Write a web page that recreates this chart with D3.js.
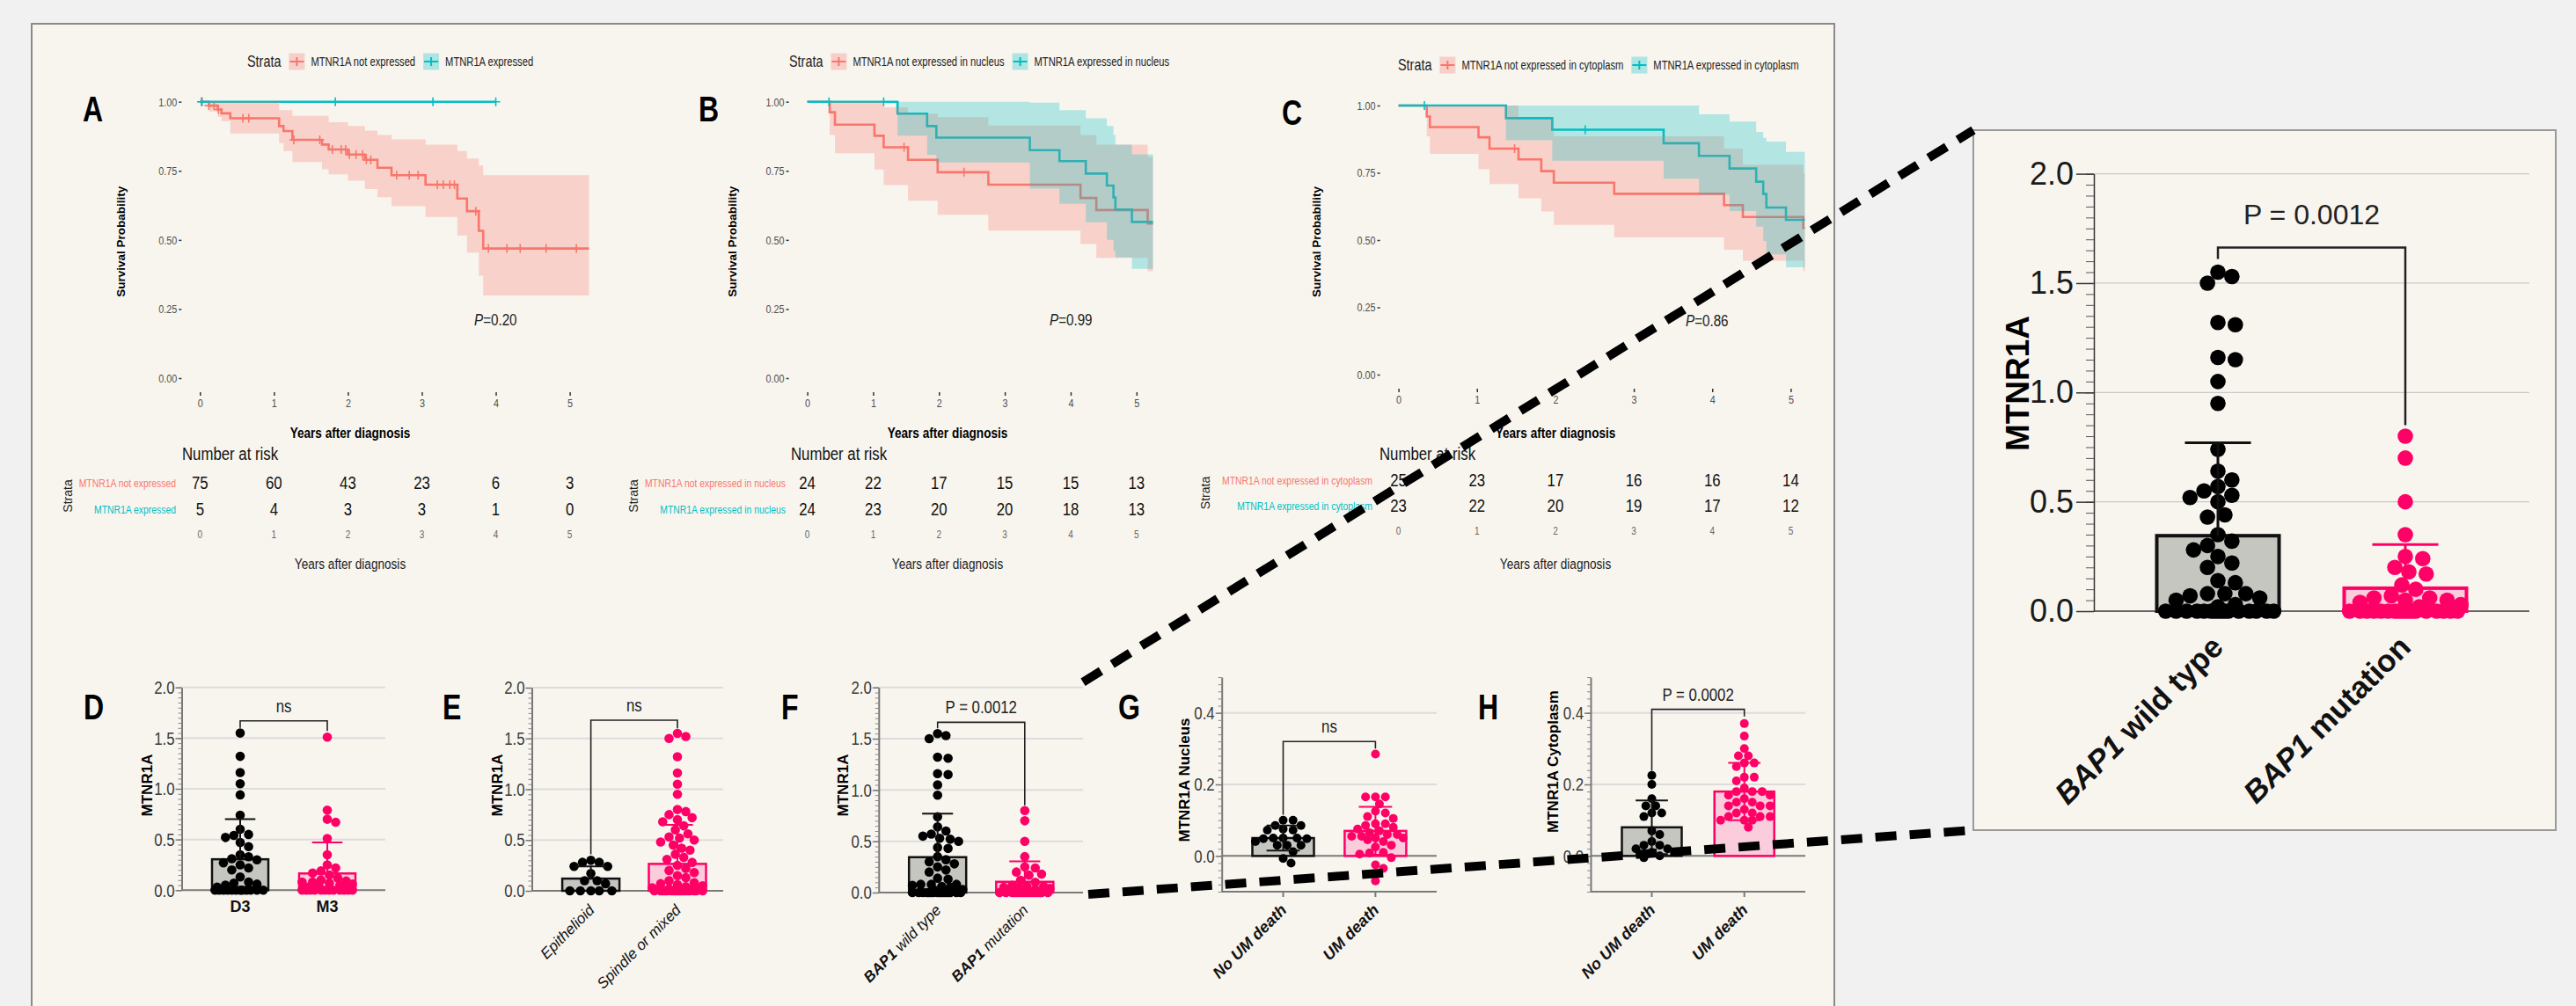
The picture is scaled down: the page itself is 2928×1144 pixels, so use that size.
<!DOCTYPE html>
<html>
<head>
<meta charset="utf-8">
<script src="https://cdn.jsdelivr.net/npm/d3@7/dist/d3.min.js"></script>
<style>
  html, body { margin: 0; padding: 0; background: #f1f1f1; }
  svg { display: block; }
</style>
</head>
<body>
<div id="root"></div>
<script>
const W = 2928
const H = 1144
const RED = '#f8766d'
const TEAL = '#00bfc4'
const PINK = '#ff0066'
const CREAM = '#f8f5ef'
const SANS = "'Liberation Sans',Arial,sans-serif"
const SQ = 0.8   // horizontal squeeze that imitates the condensed face of the original

// ---------- Kaplan-Meier data ----------
const years = [0, 1, 2, 3, 4, 5]

// A: MTNR1A not expressed / expressed
const aNotTime = [0, 0.12, 0.24, 0.29, 0.41, 1.07, 1.13, 1.25, 1.65, 1.74, 2.0, 2.23, 2.40, 2.59, 3.05, 3.48, 3.61, 3.77, 3.83]
const aNotSurv = [1, 0.986, 0.972, 0.958, 0.94, 0.912, 0.894, 0.862, 0.845, 0.827, 0.809, 0.79, 0.761, 0.734, 0.70, 0.65, 0.604, 0.533, 0.469]
const aNotLow = [1, 0.965, 0.945, 0.93, 0.885, 0.85, 0.822, 0.782, 0.756, 0.737, 0.714, 0.684, 0.655, 0.622, 0.583, 0.516, 0.454, 0.371, 0.299]
const aNotHigh = [1, 1, 1, 1, 1, 0.97, 0.97, 0.949, 0.949, 0.926, 0.912, 0.896, 0.88, 0.864, 0.845, 0.822, 0.795, 0.769, 0.734]
const aNotCensor = [0.03, 0.12, 0.19, 0.25, 0.58, 0.66, 1.27, 1.62, 1.79, 1.91, 1.97, 2.02, 2.11, 2.2, 2.25, 2.31, 2.66, 2.83, 2.95, 3.21, 3.29, 3.38, 3.44, 3.73, 3.9, 4.15, 4.33, 4.68, 5.09]
const aNotEnd = 5.26
const aExpTime = [0]
const aExpSurv = [1]
const aExpLow = [1]
const aExpHigh = [1]
const aExpCensor = [0.02, 1.83, 3.15, 4.0]
const aExpEnd = 4.0
const aRiskNot = [75, 60, 43, 23, 6, 3]
const aRiskExp = [5, 4, 3, 3, 1, 0]

// B: nucleus
const bNotTime = [0, 0.34, 0.42, 1.02, 1.16, 1.53, 1.98, 2.75, 4.15, 4.39, 5.17]
const bNotSurv = [1, 0.962, 0.917, 0.877, 0.835, 0.79, 0.745, 0.70, 0.652, 0.608, 0.559]
const bNotLow = [1, 0.88, 0.814, 0.755, 0.698, 0.642, 0.591, 0.534, 0.485, 0.435, 0.387]
const bNotHigh = [1, 1, 1, 1, 0.98, 0.957, 0.944, 0.914, 0.88, 0.845, 0.80]
const bNotCensor = [1.47, 2.38]
const bNotEnd = 5.25
const bExpTime = [0, 1.37, 1.82, 1.96, 3.38, 3.83, 4.23, 4.55, 4.65, 4.68, 4.93]
const bExpSurv = [1, 0.957, 0.912, 0.87, 0.825, 0.785, 0.74, 0.697, 0.654, 0.61, 0.565]
const bExpLow = [1, 0.877, 0.808, 0.78, 0.686, 0.631, 0.564, 0.50, 0.46, 0.437, 0.395]
const bExpHigh = [1, 1, 1, 1, 0.997, 0.97, 0.94, 0.912, 0.88, 0.845, 0.81]
const bExpCensor = [0.33, 1.16]
const bExpEnd = 5.25
const bRiskNot = [24, 22, 17, 15, 15, 13]
const bRiskExp = [24, 23, 20, 20, 18, 13]

// C: cytoplasm
const cNotTime = [0, 0.36, 0.40, 1.02, 1.16, 1.53, 1.82, 1.98, 2.75, 4.15, 4.39, 5.16]
const cNotSurv = [1, 0.959, 0.92, 0.882, 0.84, 0.80, 0.756, 0.713, 0.672, 0.63, 0.586, 0.545]
const cNotLow = [1, 0.886, 0.82, 0.763, 0.708, 0.655, 0.606, 0.556, 0.51, 0.464, 0.423, 0.385]
const cNotHigh = [1, 1, 1, 1, 1, 0.95, 0.95, 0.886, 0.886, 0.84, 0.78, 0.75]
const cNotCensor = [1.48]
const cNotEnd = 5.18
const cExpTime = [0, 1.37, 1.96, 3.38, 3.83, 4.22, 4.56, 4.65, 4.69, 4.94]
const cExpSurv = [1, 0.953, 0.91, 0.86, 0.813, 0.766, 0.717, 0.671, 0.621, 0.575]
const cExpLow = [1, 0.871, 0.795, 0.728, 0.668, 0.608, 0.55, 0.497, 0.447, 0.399]
const cExpHigh = [1, 1, 1, 1, 0.967, 0.94, 0.902, 0.88, 0.866, 0.828]
const cExpCensor = [0.33, 2.38]
const cExpEnd = 5.18
const cRiskNot = [25, 23, 17, 16, 16, 14]
const cRiskExp = [23, 22, 20, 19, 17, 12]

// ---------- bar / scatter panels ----------
const dCats = ['D3', 'M3']
const dD3 = [1.55, 1.32, 1.16, 1.05, 0.94, 0.74, 0.60, 0.55, 0.54, 0.52, 0.47, 0.43, 0.35, 0.33, 0.31, 0.30, 0.27, 0.25, 0.22, 0.20, 0.13, 0.08, 0.07, 0.06, 0.05, 0.03, 0, 0, 0, 0, 0, 0, 0, 0, 0, 0, 0, 0]
const dM3 = [1.51, 0.79, 0.70, 0.67, 0.51, 0.35, 0.25, 0.22, 0.19, 0.17, 0.15, 0.12, 0.10, 0.09, 0.08, 0.08, 0.07, 0.06, 0.05, 0.04, 0.03, 0.02, 0, 0, 0, 0, 0, 0, 0, 0, 0, 0, 0, 0]
const dMean = [0.305, 0.165]
const dSd = [0.395, 0.305]

const eCats = ['Epithelioid', 'Spindle or mixed']
const eEpi = [0.30, 0.28, 0.28, 0.24, 0.24, 0.17, 0.10, 0.10, 0.07, 0, 0, 0, 0, 0]
const eSpi = [1.55, 1.52, 1.50, 1.32, 1.16, 1.05, 0.95, 0.80, 0.78, 0.75, 0.72, 0.70, 0.68, 0.64, 0.60, 0.56, 0.53, 0.52, 0.50, 0.48, 0.45, 0.42, 0.40, 0.36, 0.33, 0.31, 0.28, 0.25, 0.22, 0.20, 0.18, 0.15, 0.13, 0.10, 0.08, 0.07, 0.06, 0.05, 0.04, 0.03, 0.02, 0.02, 0.01, 0.01, 0, 0, 0, 0, 0, 0, 0, 0, 0, 0, 0, 0, 0, 0, 0, 0, 0, 0]
const eMean = [0.12, 0.265]
const eSd = [0.12, 0.385]

const fCats = ['wild type', 'mutation']
const bapWild = [1.55, 1.53, 1.50, 1.32, 1.31, 1.16, 1.15, 1.05, 0.95, 0.74, 0.64, 0.60, 0.57, 0.55, 0.53, 0.52, 0.50, 0.44, 0.43, 0.35, 0.32, 0.30, 0.28, 0.25, 0.22, 0.20, 0.14, 0.13, 0.08, 0.08, 0.08, 0.07, 0.06, 0.05, 0.03, 0.02, 0, 0, 0, 0, 0, 0, 0, 0, 0, 0, 0, 0, 0, 0, 0, 0]
const bapMut = [0.80, 0.70, 0.50, 0.35, 0.25, 0.24, 0.20, 0.18, 0.17, 0.12, 0.10, 0.07, 0.06, 0.06, 0.05, 0.05, 0.04, 0.03, 0.02, 0, 0, 0, 0, 0, 0, 0, 0, 0, 0, 0, 0, 0, 0, 0, 0, 0, 0]
const fMean = [0.345, 0.105]
const fSd = [0.425, 0.20]

const ghCats = ['No UM death', 'UM death']
const gNo = [0.10, 0.10, 0.085, 0.085, 0.075, 0.072, 0.072, 0.05, 0.05, 0.05, 0.048, 0.048, 0.04, 0.03, 0.03, 0.03, 0.012, -0.007, -0.02]
const gUm = [0.285, 0.165, 0.165, 0.165, 0.145, 0.125, 0.12, 0.11, 0.105, 0.09, 0.09, 0.085, 0.08, 0.075, 0.07, 0.065, 0.06, 0.06, 0.055, 0.055, 0.05, 0.05, 0.045, 0.04, 0.03, 0.025, 0.01, 0.008, 0.005, -0.005, -0.025, -0.035, -0.07]
const gMean = [0.05, 0.07]
const gSd = [0.035, 0.067]
const hNo = [0.225, 0.20, 0.16, 0.14, 0.14, 0.12, 0.12, 0.11, 0.07, 0.06, 0.04, 0.03, 0.03, 0.02, 0.02, 0.01, 0.01, 0.0, -0.005]
const hUm = [0.37, 0.335, 0.30, 0.28, 0.28, 0.26, 0.26, 0.25, 0.22, 0.22, 0.21, 0.19, 0.18, 0.18, 0.18, 0.17, 0.17, 0.16, 0.15, 0.15, 0.14, 0.14, 0.14, 0.13, 0.12, 0.12, 0.11, 0.11, 0.11, 0.10, 0.10, 0.10, 0.08]
const hMean = [0.08, 0.18]
const hSd = [0.075, 0.08]

// significance brackets: [bar level, left leg end, right leg end]
const dBracket = [1.67, 1.60, 1.57]
const eBracket = [1.68, 0.36, 1.60]
const fBracket = [1.66, 1.60, 0.85]
const gBracket = [0.32, 0.115, 0.30]
const hBracket = [0.41, 0.238, 0.39]
const insetBracket = [1.663, 1.61, 0.85]

const svg = d3.select('#root').append('svg')
  .attr('width', W)
  .attr('height', H)

svg.append('rect').attr('width', W).attr('height', H).attr('fill', '#f1f1f1')
svg.append('rect')
  .attr('x', 36).attr('y', 27).attr('width', 2049).attr('height', 1160)
  .attr('fill', CREAM).attr('stroke', '#8a8a8a').attr('stroke-width', 2)

// condensed text: placed with a transform, squeezed horizontally
function ntext(parent, x, y, size, rotate) {
  return parent.append('text')
    .attr('transform', `translate(${x},${y})${rotate ? ` rotate(${rotate})` : ''} scale(${SQ},1)`)
    .attr('font-family', SANS).attr('font-size', size)
}

function squeezeAxisText(sel) {
  sel.selectAll('text').each(function () {
    const t = d3.select(this)
    const x = t.attr('x')
    if (x !== null) t.attr('x', +x / SQ)
    t.attr('transform', `scale(${SQ},1)`)
  })
}

function stepPoints(times, vals, end) {
  const pts = times.map((t, i) => [t, vals[i]])
  pts.push([end, vals[vals.length - 1]])
  return pts
}

function survAt(times, vals, t) {
  let v = vals[0]
  times.forEach((tt, i) => { if (tt <= t) v = vals[i] })
  return v
}

function drawKm(cfg) {
  const x = d3.scaleLinear().domain([0, 5]).range([cfg.x0, cfg.x5])
  const y = d3.scaleLinear().domain([0, 1]).range([cfg.y0, cfg.y1])
  const g = svg.append('g')

  const yAxis = d3.axisLeft(y)
    .tickValues([0, 0.25, 0.5, 0.75, 1])
    .tickFormat(d3.format('.2f'))
    .tickSize(3).tickPadding(2).tickSizeOuter(0)
  const ya = g.append('g').attr('transform', `translate(${cfg.x0 - 21},0)`).call(yAxis)
  const xAxis = d3.axisBottom(x).tickValues(years).tickFormat(d3.format('d'))
    .tickSize(4).tickPadding(3).tickSizeOuter(0)
  const xa = g.append('g').attr('transform', `translate(0,${cfg.y0 + 16})`).call(xAxis)
  ;[ya, xa].forEach(a => {
    a.select('.domain').remove()
    a.selectAll('line').attr('stroke', '#333').attr('stroke-width', 1.5)
    a.selectAll('text').attr('font-family', SANS).attr('font-size', 13.5).attr('fill', '#4d4d4d')
    squeezeAxisText(a)
  })

  const line = d3.line().curve(d3.curveStepAfter).x(d => x(d[0])).y(d => y(d[1]))
  const area = d3.area().curve(d3.curveStepAfter)
    .x(d => x(d[0])).y0(d => y(d[1])).y1(d => y(d[2]))

  cfg.series.forEach(s => {
    g.append('path')
      .attr('d', line(stepPoints(s.time, s.surv, s.end)))
      .attr('fill', 'none').attr('stroke', s.color).attr('stroke-width', 2.6)
    s.censor.forEach(t => {
      const cx = x(t), cy = y(survAt(s.time, s.surv, t))
      g.append('path').attr('d', `M${cx - 5},${cy}H${cx + 5}M${cx},${cy - 5}V${cy + 5}`)
        .attr('stroke', s.color).attr('stroke-width', 1.6)
    })
  })
  cfg.series.forEach(s => {
    const pts = s.time.map((t, i) => [t, s.low[i], s.high[i]])
    pts.push([s.end, s.low[s.low.length - 1], s.high[s.high.length - 1]])
    g.append('path').attr('d', area(pts)).attr('fill', s.color).attr('opacity', 0.28)
  })

  // legend
  let lx = cfg.legX
  const ly = cfg.legY
  const st = ntext(g, lx, ly, 18).attr('dy', '0.35em').attr('fill', '#222').text('Strata')
  lx += st.node().getComputedTextLength() * SQ + 9
  cfg.series.forEach(s => {
    g.append('rect').attr('x', lx).attr('y', ly - 9.5).attr('width', 18).attr('height', 19)
      .attr('fill', s.color).attr('opacity', 0.3)
    g.append('path').attr('d', `M${lx + 1},${ly}H${lx + 17}M${lx + 9},${ly - 5}V${ly + 5}`)
      .attr('stroke', s.color).attr('stroke-width', 2)
    const t = ntext(g, lx + 25, ly, 14).attr('dy', '0.35em').attr('fill', '#222').text(s.label)
    lx += 25 + t.node().getComputedTextLength() * SQ + 9
  })

  ntext(g, cfg.letterX, cfg.y1 + 22, 40).attr('font-weight', 'bold').text(cfg.letter)

  g.append('text')
    .attr('transform', `translate(${cfg.yLabX},${(cfg.y0 + cfg.y1) / 2 + 2}) rotate(-90)`)
    .attr('text-anchor', 'middle').attr('dy', '0.35em')
    .attr('font-family', SANS).attr('font-weight', 'bold').attr('font-size', 13.5)
    .text('Survival Probability')

  const p = ntext(g, cfg.pX, cfg.pY, 19).attr('fill', '#222')
  p.append('tspan').attr('font-style', 'italic').text('P')
  p.append('tspan').text(cfg.pText)

  ntext(g, cfg.titleX, 498, 17).attr('text-anchor', 'middle').attr('font-weight', 'bold')
    .text('Years after diagnosis')

  // risk table
  ntext(g, cfg.riskX, 516, 21).attr('dy', '0.35em').attr('fill', '#111').text('Number at risk')
  cfg.series.forEach((s, i) => {
    const ry = cfg.riskY[i]
    ntext(g, cfg.riskLabX, ry, 13).attr('dy', '0.35em')
      .attr('text-anchor', 'end').attr('fill', s.color).text(s.label)
    s.risk.forEach((d, j) => {
      ntext(g, x(years[j]), ry, 21).attr('dy', '0.35em')
        .attr('text-anchor', 'middle').attr('fill', '#111').text(d)
    })
  })
  g.append('text')
    .attr('transform', `translate(${cfg.strataX},${(cfg.riskY[0] + cfg.riskY[1]) / 2}) rotate(-90)`)
    .attr('text-anchor', 'middle').attr('dy', '0.35em')
    .attr('font-family', SANS).attr('font-size', 14).attr('fill', '#222').text('Strata')
  years.forEach(d => {
    ntext(g, x(d), cfg.riskY[1] + 29, 12.5).attr('dy', '0.35em')
      .attr('text-anchor', 'middle').attr('fill', '#666').text(d)
  })
  ntext(g, cfg.titleX, 641, 17).attr('dy', '0.35em').attr('text-anchor', 'middle')
    .attr('fill', '#222').text('Years after diagnosis')
}

drawKm({
  letter: 'A', letterX: 94, x0: 227.3, x5: 647.6, y0: 430, y1: 115.7,
  legX: 281, legY: 70, yLabX: 137, pX: 539, pY: 370, pText: '=0.20',
  titleX: 398, riskX: 207, riskY: [549, 579], riskLabX: 200, strataX: 77,
  series: [
    { label: 'MTNR1A not expressed', color: RED, time: aNotTime, surv: aNotSurv, low: aNotLow, high: aNotHigh, censor: aNotCensor, end: aNotEnd, risk: aRiskNot },
    { label: 'MTNR1A expressed', color: TEAL, time: aExpTime, surv: aExpSurv, low: aExpLow, high: aExpHigh, censor: aExpCensor, end: aExpEnd, risk: aRiskExp }
  ]
})
drawKm({
  letter: 'B', letterX: 794, x0: 917.6, x5: 1291.8, y0: 430, y1: 115.7,
  legX: 897, legY: 70, yLabX: 832, pX: 1193, pY: 370, pText: '=0.99',
  titleX: 1077, riskX: 899, riskY: [549, 579], riskLabX: 893, strataX: 720,
  series: [
    { label: 'MTNR1A not expressed in nucleus', color: RED, time: bNotTime, surv: bNotSurv, low: bNotLow, high: bNotHigh, censor: bNotCensor, end: bNotEnd, risk: bRiskNot },
    { label: 'MTNR1A expressed in nucleus', color: TEAL, time: bExpTime, surv: bExpSurv, low: bExpLow, high: bExpHigh, censor: bExpCensor, end: bExpEnd, risk: bRiskExp }
  ]
})
drawKm({
  letter: 'C', letterX: 1457, x0: 1589.6, x5: 2035.4, y0: 426, y1: 120,
  legX: 1589, legY: 74, yLabX: 1496, pX: 1916, pY: 371, pText: '=0.86',
  titleX: 1768, riskX: 1568, riskY: [546, 575], riskLabX: 1560, strataX: 1370,
  series: [
    { label: 'MTNR1A not expressed in cytoplasm', color: RED, time: cNotTime, surv: cNotSurv, low: cNotLow, high: cNotHigh, censor: cNotCensor, end: cNotEnd, risk: cRiskNot },
    { label: 'MTNR1A expressed in cytoplasm', color: TEAL, time: cExpTime, surv: cExpSurv, low: cExpLow, high: cExpHigh, censor: cExpCensor, end: cExpEnd, risk: cRiskExp }
  ]
})

// deterministic scatter spread (no random jitter)
function spread(vals, cx, y, r, maxHalf) {
  const pts = vals.map(v => ({ v, py: y(v) })).sort((a, b) => d3.descending(a.v, b.v))
  const placed = []
  const minD = r * 1.85
  pts.forEach(p => {
    let found = null, bestOff = 0, bestD = -1
    for (let k = 0; k <= 80; k++) {
      const off = Math.ceil(k / 2) * r * 0.45 * (k % 2 ? 1 : -1)
      if (Math.abs(off) > maxHalf) continue
      const dmin = placed.length ? d3.min(placed, q => Math.hypot(q.px - (cx + off), q.py - p.py)) : Infinity
      if (dmin >= minD) { found = off; break }
      if (dmin > bestD) { bestD = dmin; bestOff = off }
    }
    p.px = cx + (found !== null ? found : bestOff)
    placed.push(p)
  })
  return pts
}

const GROUP_STYLE = [
  { fill: '#c6c6c1', stroke: '#111', dot: '#000' },
  { fill: '#fbccdc', stroke: PINK, dot: PINK }
]

function drawBarPanel(cfg) {
  const y = d3.scaleLinear().domain(cfg.domain).range([cfg.yLo, cfg.yHi])
  const x = d3.scaleOrdinal().domain(cfg.cats).range(cfg.centers)
  const g = svg.append('g')
  const big = !!cfg.big

  g.selectAll(null).data(cfg.grid).join('line')
    .attr('x1', cfg.axisX).attr('x2', cfg.gridEnd)
    .attr('y1', d => y(d)).attr('y2', d => y(d))
    .attr('stroke', big ? '#c9c9c9' : '#dcdcdc').attr('stroke-width', big ? 1.2 : 2)
  g.append('line').attr('x1', cfg.axisX).attr('x2', cfg.gridEnd)
    .attr('y1', y(0)).attr('y2', y(0))
    .attr('stroke', big ? '#333' : '#7a7a7a').attr('stroke-width', big ? 1.5 : 2)
  if (cfg.domain[0] < 0) {
    g.append('line').attr('x1', cfg.axisX).attr('x2', cfg.gridEnd)
      .attr('y1', cfg.yLo).attr('y2', cfg.yLo).attr('stroke', '#7a7a7a').attr('stroke-width', 2)
    g.selectAll(null).data(cfg.cats).join('line')
      .attr('x1', d => x(d)).attr('x2', d => x(d))
      .attr('y1', cfg.yLo).attr('y2', cfg.yLo + 6).attr('stroke', '#7a7a7a').attr('stroke-width', 2)
  }

  const minor = d3.axisLeft(y).tickValues(cfg.minor).tickFormat('').tickSize(big ? 9 : 4).tickSizeOuter(0)
  const mg = g.append('g').attr('transform', `translate(${cfg.axisX},0)`).call(minor)
  mg.selectAll('line').attr('stroke', big ? '#555' : '#888').attr('stroke-width', 1)
  mg.select('.domain').attr('stroke', big ? '#333' : '#777').attr('stroke-width', big ? 1.5 : 2)
  const major = d3.axisLeft(y).tickValues(cfg.ticks).tickFormat(d3.format('.1f'))
    .tickSize(big ? 20 : 7).tickPadding(big ? 3 : 1).tickSizeOuter(0)
  const ag = g.append('g').attr('transform', `translate(${cfg.axisX},0)`).call(major)
  ag.select('.domain').remove()
  ag.selectAll('line').attr('stroke', big ? '#333' : '#777').attr('stroke-width', 1.5)
  ag.selectAll('text').attr('font-family', SANS)
    .attr('font-size', big ? 36 : 21).attr('fill', big ? '#1a1a1a' : '#3a3a3a')
  if (!big) squeezeAxisText(ag)

  // bars
  const bw = cfg.barW
  g.selectAll(null).data(cfg.cats).join('rect')
    .attr('x', d => x(d) - bw / 2).attr('width', bw)
    .attr('y', (d, i) => y(cfg.means[i])).attr('height', (d, i) => y(0) - y(cfg.means[i]))
    .attr('fill', (d, i) => GROUP_STYLE[i].fill)
    .attr('stroke', (d, i) => GROUP_STYLE[i].stroke).attr('stroke-width', big ? 4 : 2.5)

  // points
  cfg.cats.forEach((c, i) => {
    const pts = spread(cfg.values[i], x(c), y, cfg.r, bw / 2 - cfg.r * 0.6)
    g.selectAll(null).data(pts).join('circle')
      .attr('cx', d => d.px).attr('cy', d => d.py).attr('r', cfg.r)
      .attr('fill', GROUP_STYLE[i].dot)
  })

  // error bars (mean + SD, both sides when asked)
  cfg.cats.forEach((c, i) => {
    const cx = x(c), m = cfg.means[i], s = cfg.sd[i], cap = bw * 0.27
    const col = GROUP_STYLE[i].stroke
    const lo = cfg.bothSides ? m - s : m
    g.append('path')
      .attr('d', `M${cx},${y(lo)}V${y(m + s)}M${cx - cap},${y(m + s)}H${cx + cap}` +
        (cfg.bothSides ? `M${cx - cap},${y(m - s)}H${cx + cap}` : ''))
      .attr('fill', 'none').attr('stroke', col).attr('stroke-width', big ? 3 : 2)
  })

  // bracket
  const [by, bl, br] = cfg.bracket
  const x1 = x(cfg.cats[0]), x2 = x(cfg.cats[1])
  g.append('path').attr('d', `M${x1},${y(bl)}V${y(by)}H${x2}V${y(br)}`)
    .attr('fill', 'none').attr('stroke', '#222').attr('stroke-width', big ? 2.5 : 1.6)
  if (big) {
    g.append('text').attr('x', (x1 + x2) / 2).attr('y', y(by) - 26)
      .attr('text-anchor', 'middle').attr('font-family', SANS)
      .attr('font-size', 32).attr('fill', '#222').text(cfg.bracketText)
  } else {
    ntext(g, (x1 + x2) / 2, y(by) - 10, 21).attr('text-anchor', 'middle')
      .attr('fill', '#222').text(cfg.bracketText)
  }

  // axis title
  g.append('text')
    .attr('transform', `translate(${cfg.yLabX},${cfg.yLabY}) rotate(-90)`)
    .attr('text-anchor', 'middle').attr('dy', '0.35em')
    .attr('font-family', SANS).attr('font-weight', 'bold').attr('font-size', big ? 37 : 17)
    .text(cfg.yTitle)

  if (cfg.letter) {
    ntext(g, cfg.letterX, 818, 40).attr('font-weight', 'bold').text(cfg.letter)
  }

  // category labels
  cfg.cats.forEach((c, i) => {
    const parts = cfg.labelParts[i]
    const t = g.append('text')
      .attr('font-family', SANS).attr('font-size', cfg.labelSize).attr('fill', '#111')
    if (cfg.labelRotate) {
      t.attr('text-anchor', 'end')
        .attr('transform', `translate(${x(c) + cfg.labelDx},${cfg.labelY}) rotate(-45)`)
    } else {
      t.attr('text-anchor', 'middle').attr('x', x(c)).attr('y', cfg.labelY)
    }
    parts.forEach(p => {
      t.append('tspan').attr('font-style', p.italic ? 'italic' : 'normal')
        .attr('font-weight', p.bold ? 'bold' : 'normal').text(p.text)
    })
  })
}

const ticks02 = [0, 0.5, 1, 1.5, 2]
const minor02 = d3.range(0, 2.0001, 0.05)
const ticksGH = [0, 0.2, 0.4]
const minorGH = d3.range(-0.1, 0.5001, 0.02)

drawBarPanel({
  letter: 'D', letterX: 95, cats: dCats, values: [dD3, dM3], means: dMean, sd: dSd,
  domain: [0, 2], yLo: 1012.3, yHi: 781.7, axisX: 206.5, gridEnd: 438, grid: [0.5, 1, 1.5, 2],
  ticks: ticks02, minor: minor02, centers: [273, 372], barW: 64, r: 5.3,
  bracket: dBracket, bracketText: 'ns', yTitle: 'MTNR1A', yLabX: 167, yLabY: 893,
  labelRotate: false, labelY: 1037, labelSize: 18,
  labelParts: [[{ text: 'D3', bold: true }], [{ text: 'M3', bold: true }]]
})
drawBarPanel({
  letter: 'E', letterX: 503, cats: eCats, values: [eEpi, eSpi], means: eMean, sd: eSd,
  domain: [0, 2], yLo: 1013, yHi: 782, axisX: 604.5, gridEnd: 822, grid: [0.5, 1, 1.5, 2],
  ticks: ticks02, minor: minor02, centers: [671.6, 770], barW: 65, r: 5.3,
  bracket: eBracket, bracketText: 'ns', yTitle: 'MTNR1A', yLabX: 565, yLabY: 893,
  labelRotate: true, labelDx: 5, labelY: 1036, labelSize: 17,
  labelParts: [[{ text: 'Epithelioid', italic: true }], [{ text: 'Spindle or mixed', italic: true }]]
})
drawBarPanel({
  letter: 'F', letterX: 888, cats: fCats, values: [bapWild, bapMut], means: fMean, sd: fSd,
  domain: [0, 2], yLo: 1015, yHi: 781.7, axisX: 998.8, gridEnd: 1231, grid: [0.5, 1, 1.5, 2],
  ticks: ticks02, minor: minor02, centers: [1065.7, 1164.8], barW: 65, r: 5.3,
  bracket: fBracket, bracketText: 'P = 0.0012', yTitle: 'MTNR1A', yLabX: 958, yLabY: 893,
  labelRotate: true, labelDx: 5, labelY: 1036, labelSize: 17,
  labelParts: [[{ text: 'BAP1', italic: true, bold: true }, { text: ' wild type', italic: true }],
    [{ text: 'BAP1', italic: true, bold: true }, { text: ' mutation', italic: true }]]
})
drawBarPanel({
  letter: 'G', letterX: 1271, cats: ghCats, values: [gNo, gUm], means: gMean, sd: gSd, bothSides: true,
  domain: [-0.1, 0.5], yLo: 1014, yHi: 770, axisX: 1388.7, gridEnd: 1633, grid: [0.2, 0.4],
  ticks: ticksGH, minor: minorGH, centers: [1458.5, 1563.4], barW: 70, r: 5,
  bracket: gBracket, bracketText: 'ns', yTitle: 'MTNR1A Nucleus', yLabX: 1346, yLabY: 887,
  labelRotate: true, labelDx: 5, labelY: 1036, labelSize: 18,
  labelParts: [[{ text: 'No UM death', italic: true, bold: true }], [{ text: 'UM death', italic: true, bold: true }]]
})
drawBarPanel({
  letter: 'H', letterX: 1680, cats: ghCats, values: [hNo, hUm], means: hMean, sd: hSd, bothSides: true,
  domain: [-0.1, 0.5], yLo: 1014, yHi: 770, axisX: 1808, gridEnd: 2052, grid: [0.2, 0.4],
  ticks: ticksGH, minor: minorGH, centers: [1877.5, 1982.7], barW: 68, r: 5,
  bracket: hBracket, bracketText: 'P = 0.0002', yTitle: 'MTNR1A Cytoplasm', yLabX: 1765, yLabY: 866,
  labelRotate: true, labelDx: 5, labelY: 1036, labelSize: 18,
  labelParts: [[{ text: 'No UM death', italic: true, bold: true }], [{ text: 'UM death', italic: true, bold: true }]]
})

// enlarged copy of panel F
const INSET = { x: 2243, y: 148, w: 662, h: 796 }
svg.append('rect').attr('x', INSET.x).attr('y', INSET.y).attr('width', INSET.w).attr('height', INSET.h)
  .attr('fill', CREAM).attr('stroke', '#9a9a9a').attr('stroke-width', 2)
drawBarPanel({
  big: true, cats: fCats, values: [bapWild, bapMut], means: fMean, sd: fSd,
  domain: [0, 2], yLo: 695, yHi: 197.6, axisX: 2380, gridEnd: 2875, grid: [0.5, 1, 1.5, 2],
  ticks: ticks02, minor: minor02, centers: [2521, 2734], barW: 139, r: 8.8,
  bracket: insetBracket, bracketText: 'P = 0.0012', yTitle: 'MTNR1A', yLabX: 2293, yLabY: 436,
  labelRotate: true, labelDx: 8, labelY: 738, labelSize: 35,
  labelParts: [[{ text: 'BAP1', italic: true, bold: true }, { text: ' wild type', bold: true }],
    [{ text: 'BAP1', italic: true, bold: true }, { text: ' mutation', bold: true }]]
})

// dashed connectors from panel F to the enlarged copy
const connectors = [
  [[1231, 781.7 - 6], [INSET.x, INSET.y]],
  [[1237, 1017], [INSET.x, INSET.y + INSET.h]]
]
svg.selectAll(null).data(connectors).join('line')
  .attr('x1', d => d[0][0]).attr('y1', d => d[0][1])
  .attr('x2', d => d[1][0]).attr('y2', d => d[1][1])
  .attr('stroke', '#000').attr('stroke-width', 10).attr('stroke-dasharray', '24,15')
</script>
</body>
</html>
